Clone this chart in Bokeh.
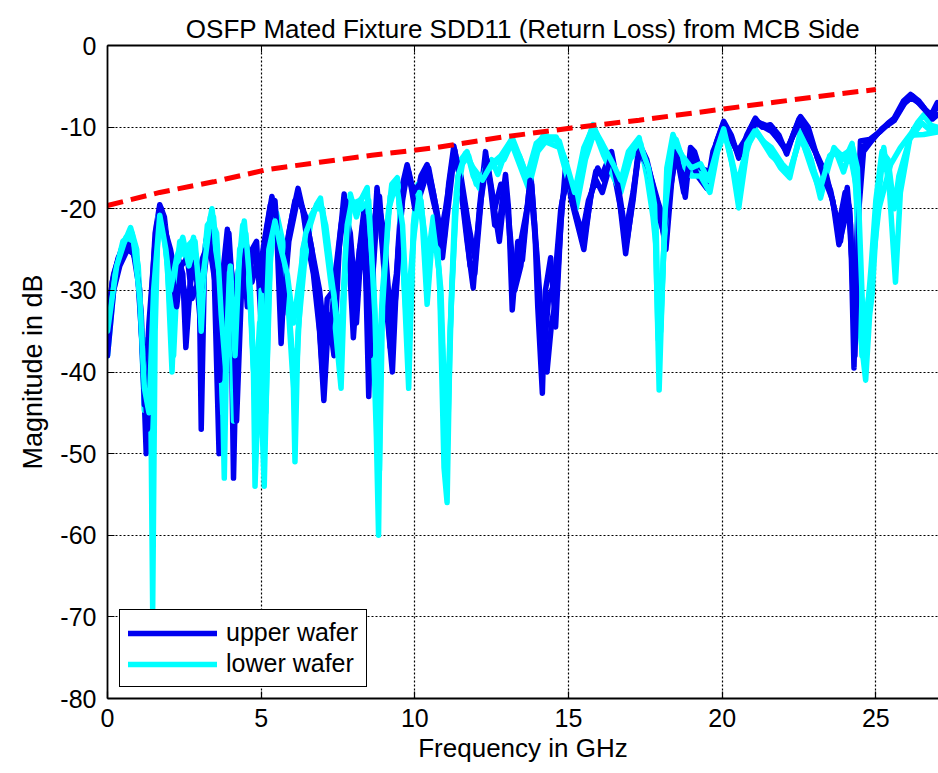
from bokeh.plotting import figure
from bokeh.models import FixedTicker, LinearAxis, Range1d, Legend, LegendItem
from bokeh.embed import file_html
from bokeh.resources import INLINE

TITLE = "OSFP Mated Fixture SDD11 (Return Loss) from MCB Side"
X_LABEL = "Frequency in GHz"
Y_LABEL = "Magnitude in dB"
X_TICKS = [0, 5, 10, 15, 20, 25]
Y_TICKS = [0, -10, -20, -30, -40, -50, -60, -70, -80]
LEGEND_LABELS = ["upper wafer", "lower wafer"]

# limit line (GHz, dB)
limit_f = [0, 1.7, 3.45, 5.2, 6.9, 8.6, 10.7, 12.9, 15.1, 17.3, 19.5, 21.7, 23.85, 25]
limit_db = [-19.6, -18.0, -16.7, -15.2, -14.3, -13.45, -12.5, -11.2, -10.1, -9.15, -8.05, -6.95, -5.9, -5.4]

# upper wafer traces: (GHz, dB)
upper_1 = [
    (0.0, -36), (0.15, -29), (0.35, -26), (0.55, -24.5), (0.75, -24), (0.95, -27), (1.1, -33), (1.26, -50),
    (1.4, -33), (1.55, -23), (1.7, -19.5), (1.85, -21), (2.0, -26), (2.15, -30), (2.3, -26), (2.45, -28),
    (2.55, -37), (2.7, -29), (2.85, -26.5), (3.0, -33), (3.05, -47), (3.15, -28), (3.3, -23), (3.45, -25),
    (3.63, -50), (3.75, -28), (3.9, -22.5), (4.0, -27), (4.1, -53), (4.25, -28), (4.4, -23.5), (4.55, -32),
    (4.7, -25), (4.85, -24), (5.0, -34), (5.2, -22), (5.35, -18.5), (5.5, -22), (5.65, -36.5), (5.8, -25),
    (6.0, -21), (6.2, -17.5), (6.35, -20), (6.5, -24), (6.7, -28), (6.9, -35), (7.04, -43.5), (7.2, -33),
    (7.37, -38), (7.55, -24), (7.7, -18.2), (7.85, -25), (8.0, -35.8), (8.2, -25), (8.35, -20), (8.5, -43),
    (8.65, -25), (8.77, -17.4), (8.95, -25), (9.1, -33), (9.27, -40), (9.45, -25), (9.6, -17), (9.75, -14.6),
    (9.9, -17), (10.03, -19), (10.2, -16), (10.4, -14.6), (10.6, -18), (10.8, -22), (10.95, -24), (11.1, -17),
    (11.27, -12.3), (11.45, -16), (11.7, -24), (11.9, -29.7), (12.1, -20), (12.3, -13), (12.45, -17), (12.6, -22),
    (12.74, -22.3), (12.95, -15.8), (13.05, -20), (13.17, -32.4), (13.35, -24), (13.5, -26.3), (13.77, -15.6),
    (13.9, -22), (14.0, -32), (14.15, -42.6), (14.25, -30), (14.42, -26), (14.58, -34.5), (14.75, -22),
    (14.9, -15), (15.1, -19), (15.3, -22), (15.5, -25), (15.7, -19), (15.89, -15.4), (16.1, -15.8), (16.4, -13),
    (16.6, -17), (16.86, -25.5), (17.05, -20), (17.3, -12), (17.55, -14), (17.84, -18.6), (18.0, -21),
    (18.17, -25), (18.35, -17), (18.5, -12.5), (18.8, -18.6), (18.97, -12.5), (19.1, -13), (19.3, -15.4),
    (19.62, -16.2), (19.8, -12), (20.05, -9.3), (20.3, -11), (20.54, -13.8), (20.8, -11), (21.08, -8.9),
    (21.3, -10), (21.57, -9.7), (21.85, -11), (22.1, -13.3), (22.3, -11), (22.55, -8.7), (22.8, -10),
    (23.1, -13.8), (23.3, -15.5), (23.53, -17.8), (23.7, -21), (23.85, -24), (23.95, -21), (24.07, -17.4),
    (24.18, -22), (24.29, -39.5), (24.38, -25), (24.5, -11.7), (24.8, -11.5), (25.15, -10.5), (25.4, -9.5),
    (25.6, -8.9), (25.9, -6.8), (26.13, -6), (26.4, -6.8), (26.6, -7.8), (26.8, -8.5), (27.0, -7),
]
upper_2 = [
    (0.0, -33), (0.2, -28), (0.45, -25), (0.7, -24.5), (0.9, -26), (1.05, -30), (1.2, -44), (1.35, -34),
    (1.55, -24), (1.7, -20), (1.9, -23), (2.05, -25), (2.2, -28), (2.35, -27), (2.5, -30), (2.6, -33),
    (2.75, -27), (2.9, -28), (3.05, -30), (3.2, -24), (3.35, -22), (3.5, -26), (3.6, -36), (3.75, -30),
    (3.9, -24), (4.05, -28), (4.2, -38), (4.35, -26), (4.5, -24), (4.65, -27), (4.8, -25), (4.95, -28),
    (5.1, -24), (5.3, -19.5), (5.45, -20), (5.6, -25), (5.75, -30), (5.9, -23), (6.1, -19), (6.3, -19.5),
    (6.5, -22), (6.7, -26), (6.9, -30), (7.1, -37), (7.3, -33), (7.5, -26), (7.7, -20), (7.9, -23),
    (8.05, -30), (8.2, -25), (8.4, -21), (8.6, -30), (8.8, -19), (9.0, -23), (9.2, -33), (9.4, -28),
    (9.6, -19), (9.75, -15.5), (9.95, -18), (10.15, -17), (10.4, -15.5), (10.6, -19), (10.85, -23), (11.0, -20),
    (11.27, -13), (11.5, -16), (11.75, -22), (11.95, -26), (12.15, -19), (12.35, -14), (12.6, -20), (12.8, -17),
    (13.0, -19), (13.2, -29), (13.4, -25), (13.6, -21), (13.8, -17), (14.0, -27), (14.2, -38), (14.35, -31),
    (14.55, -29), (14.75, -20), (14.95, -16), (15.2, -20), (15.45, -23), (15.65, -19), (15.9, -16.5),
    (16.1, -18), (16.4, -14), (16.6, -18), (16.85, -23), (17.1, -18), (17.3, -13), (17.6, -15), (17.9, -19),
    (18.15, -22), (18.35, -16), (18.55, -13.5), (18.8, -17), (19.0, -14), (19.2, -16), (19.5, -17.5),
    (19.7, -13), (20.05, -9.8), (20.5, -13), (21.1, -9.5), (21.6, -10.5), (22.1, -12.7), (22.55, -9.2),
    (23.1, -13.5), (23.4, -16), (23.65, -20), (23.8, -22), (24.0, -18), (24.15, -20), (24.3, -34), (24.4, -22),
    (24.55, -12.5), (24.9, -11.5), (25.2, -10.2), (25.6, -9), (25.9, -7.2), (26.15, -6.4), (26.5, -7.3),
    (26.85, -9), (27.0, -8.5),
]
upper_3 = [
    (0.0, -38), (0.2, -30), (0.4, -27), (0.65, -25), (0.85, -25.5), (1.0, -29), (1.15, -38), (1.3, -47),
    (1.45, -31), (1.6, -22), (1.75, -20), (1.95, -24), (2.1, -28), (2.25, -32), (2.4, -27), (2.6, -26),
    (2.75, -31), (2.95, -29), (3.1, -26), (3.3, -24), (3.5, -29), (3.65, -41), (3.8, -27), (3.95, -23),
    (4.1, -32), (4.2, -46), (4.35, -31), (4.5, -25), (4.7, -29), (4.9, -26), (5.1, -30), (5.3, -21),
    (5.45, -19), (5.6, -27), (5.7, -33), (5.9, -24), (6.2, -18.5), (6.45, -21), (6.65, -25), (6.85, -32),
    (7.0, -40), (7.15, -31), (7.35, -30), (7.6, -22), (7.75, -19), (7.95, -30), (8.1, -34), (8.3, -22),
    (8.45, -31), (8.55, -38), (8.7, -21), (8.85, -18.5), (9.05, -28), (9.2, -37), (9.4, -30), (9.6, -18),
    (9.8, -15.5), (10.0, -20), (10.2, -18), (10.45, -15), (10.7, -20), (10.9, -26), (11.05, -21), (11.3, -12.8),
    (11.55, -18), (11.8, -27), (11.95, -28), (12.2, -17), (12.35, -14.5), (12.55, -19), (12.75, -24),
    (12.95, -17), (13.1, -23), (13.25, -30), (13.45, -27), (13.75, -16.5), (13.95, -25), (14.1, -36),
    (14.3, -40), (14.45, -34), (14.6, -31), (14.8, -19), (15.0, -16), (15.25, -21), (15.5, -24), (15.75, -18),
    (15.95, -15), (16.15, -16.5), (16.4, -13.5), (16.65, -18), (16.9, -24), (17.1, -19), (17.3, -12.5),
    (17.6, -15), (17.85, -19.5), (18.1, -23), (18.3, -18), (18.5, -13), (18.75, -18), (19.0, -13), (19.3, -15),
    (19.6, -15.5), (19.85, -11.5), (20.05, -9.5), (20.55, -13.5), (21.05, -9.2), (21.55, -10), (22.1, -13),
    (22.5, -9), (23.05, -13.2), (23.35, -16.5), (23.6, -19), (23.8, -24.4), (23.95, -22), (24.1, -19),
    (24.25, -28), (24.32, -38), (24.45, -20), (24.6, -13), (25.0, -11), (25.3, -10), (25.6, -9.2),
    (25.95, -7), (26.2, -6.2), (26.5, -7.5), (26.8, -8.7), (27.0, -7.5),
]

# lower wafer traces: (GHz, dB)
lower_1 = [
    (0.0, -38), (0.2, -30), (0.45, -25), (0.75, -22.3), (0.95, -25), (1.1, -35), (1.2, -44.7), (1.3, -36),
    (1.4, -40), (1.47, -69), (1.55, -35), (1.65, -21), (1.75, -20.3), (1.95, -27), (2.1, -40), (2.2, -30),
    (2.35, -24), (2.55, -26), (2.7, -25), (2.8, -23.5), (2.95, -28), (3.05, -35), (3.2, -24), (3.4, -20),
    (3.55, -25), (3.7, -35), (3.8, -53), (3.9, -32), (4.0, -30), (4.1, -46), (4.25, -28), (4.45, -21.5),
    (4.6, -28), (4.75, -40), (4.8, -54), (4.95, -38), (5.1, -54), (5.25, -30), (5.35, -23), (5.5, -21),
    (5.7, -26), (5.9, -33), (6.05, -42), (6.1, -51), (6.2, -35), (6.4, -27), (6.6, -22), (6.8, -19.5),
    (6.93, -18.7), (7.1, -24), (7.3, -30), (7.45, -36), (7.6, -42), (7.75, -25), (7.9, -18.2), (8.1, -21),
    (8.3, -18.5), (8.45, -17.4), (8.6, -30), (8.75, -48), (8.82, -60), (8.9, -35), (9.1, -22), (9.25, -17),
    (9.43, -16.2), (9.6, -25), (9.8, -42), (9.95, -22), (10.1, -17), (10.25, -22), (10.4, -31.7), (10.6, -22),
    (10.8, -28), (10.95, -51.7), (11.05, -56), (11.15, -35), (11.35, -18), (11.5, -14), (11.7, -13),
    (11.9, -16), (12.1, -17.5), (12.3, -15), (12.5, -14), (12.7, -15.8), (12.95, -13), (13.17, -11.3),
    (13.45, -14), (13.7, -16.6), (13.95, -12.5), (14.2, -10.9), (14.45, -11.5), (14.7, -11.7), (14.95, -15),
    (15.24, -19), (15.5, -13), (15.8, -9.7), (16.1, -12.5), (16.4, -15), (16.65, -17.4), (16.95, -13),
    (17.3, -11.3), (17.55, -16), (17.75, -21), (17.84, -24.3), (17.95, -42.2), (18.05, -30), (18.2, -15),
    (18.4, -10.9), (18.7, -14), (18.95, -15.5), (19.2, -15), (19.5, -17), (19.8, -13), (20.05, -10),
    (20.3, -14), (20.54, -19.9), (20.8, -13), (21.03, -10), (21.3, -11.5), (21.57, -12.9), (21.9, -15),
    (22.2, -16.2), (22.55, -10.5), (22.9, -14), (23.2, -18.7), (23.45, -15), (23.64, -12.5), (23.9, -14),
    (24.05, -13.5), (24.23, -12), (24.4, -20), (24.5, -35.4), (24.67, -41), (24.8, -33), (24.88, -30.5),
    (25.05, -20), (25.26, -12.5), (25.45, -18), (25.64, -29), (25.8, -18), (26.13, -10.9), (26.35, -9.5),
    (26.56, -8.5), (26.8, -9.8), (27.0, -10),
]
lower_2 = [
    (0.0, -36), (0.25, -28), (0.5, -24), (0.8, -23), (1.0, -27), (1.15, -38), (1.3, -44), (1.4, -38),
    (1.55, -28), (1.7, -21), (1.85, -22), (2.05, -33), (2.15, -38), (2.3, -26), (2.5, -25), (2.75, -24),
    (2.9, -26), (3.05, -30), (3.25, -22), (3.45, -21), (3.6, -30), (3.75, -45), (3.9, -28), (4.05, -35),
    (4.2, -30), (4.4, -22), (4.55, -26), (4.7, -35), (4.85, -48), (5.0, -30), (5.15, -45), (5.3, -26),
    (5.5, -20.5), (5.7, -24), (5.85, -30), (6.0, -37), (6.15, -40), (6.35, -25), (6.6, -21), (6.9, -19),
    (7.1, -22), (7.3, -28), (7.55, -38), (7.7, -30), (7.9, -19.5), (8.2, -19), (8.45, -18), (8.65, -28),
    (8.8, -42), (8.95, -30), (9.2, -18.5), (9.45, -17), (9.65, -29), (9.8, -38), (10.0, -20), (10.2, -19),
    (10.4, -27), (10.6, -21), (10.85, -30), (11.0, -47), (11.1, -40), (11.3, -20), (11.55, -14.5),
    (11.75, -13.5), (12.0, -17), (12.3, -15.5), (12.6, -14.5), (12.9, -14), (13.15, -12), (13.45, -15),
    (13.7, -17.5), (14.0, -13), (14.25, -11.8), (14.7, -12.5), (14.95, -16), (15.25, -20), (15.55, -14),
    (15.85, -10.5), (16.15, -13.5), (16.45, -16), (16.7, -18), (17.0, -14), (17.35, -12), (17.65, -17),
    (17.85, -22), (17.95, -38), (18.1, -25), (18.3, -14), (18.5, -11.5), (18.8, -15), (19.0, -16),
    (19.3, -16), (19.6, -18), (19.85, -13), (20.1, -10.5), (20.5, -17), (20.8, -12.5), (21.1, -10.5),
    (21.6, -13.5), (22.2, -15.5), (22.55, -11), (22.9, -15), (23.15, -17.5), (23.45, -14), (23.7, -13),
    (23.95, -15.5), (24.15, -13), (24.35, -17), (24.55, -38), (24.7, -34), (24.85, -27), (25.0, -19),
    (25.2, -13), (25.4, -14), (25.6, -20), (25.75, -16), (26.1, -11.5), (26.5, -9.5), (26.8, -10.5),
    (27.0, -10.2),
]
lower_3 = [
    (0.0, -35), (0.3, -27), (0.6, -23.5), (0.85, -24), (1.05, -31), (1.2, -42), (1.35, -45), (1.5, -30),
    (1.7, -20.8), (1.9, -25), (2.05, -30), (2.25, -26), (2.45, -23.5), (2.65, -27), (2.85, -24), (3.0, -31),
    (3.15, -27), (3.35, -21), (3.55, -23), (3.7, -33), (3.85, -40), (4.0, -27), (4.15, -38), (4.3, -25),
    (4.5, -23), (4.65, -30), (4.8, -44), (4.95, -34), (5.1, -40), (5.25, -25), (5.45, -21.5), (5.65, -25),
    (5.85, -28), (6.05, -34), (6.2, -30), (6.45, -23), (6.75, -20), (7.0, -20), (7.2, -26), (7.45, -33),
    (7.6, -35), (7.8, -22), (7.95, -19), (8.25, -20), (8.5, -19), (8.7, -33), (8.85, -52), (8.95, -32),
    (9.15, -20), (9.4, -16.8), (9.6, -22), (9.75, -33), (9.95, -24), (10.15, -18), (10.35, -24), (10.55, -24),
    (10.75, -25), (10.9, -37), (11.05, -50), (11.2, -30), (11.4, -16), (11.65, -13.2), (11.9, -15),
    (12.2, -16.5), (12.5, -14.5), (12.8, -13.5), (13.1, -11.8), (13.4, -13.5), (13.65, -16), (13.95, -12),
    (14.2, -11.2), (14.6, -11.2), (14.9, -14), (15.2, -18), (15.5, -12.5), (15.8, -10), (16.1, -12),
    (16.45, -14.5), (16.7, -16.5), (17.0, -13.5), (17.3, -11.8), (17.6, -15), (17.8, -19.5), (17.92, -36),
    (18.0, -35), (18.15, -20), (18.4, -11.5), (18.7, -13.5), (19.0, -15), (19.3, -14.5), (19.55, -16.5),
    (19.85, -12.5), (20.05, -10.2), (20.35, -15), (20.55, -18.5), (20.8, -12), (21.05, -10.5), (21.35, -11.8),
    (21.6, -12.5), (21.95, -14.5), (22.2, -15.5), (22.55, -11.2), (22.9, -14.5), (23.2, -17.5), (23.5, -13.5),
    (23.7, -12.8), (23.9, -13.5), (24.1, -13), (24.25, -12.5), (24.4, -15), (24.6, -35.4), (24.84, -28.8),
    (25.1, -20), (25.48, -14.6), (25.8, -12.5), (26.1, -11), (26.56, -10.9), (27.0, -10.6),
]

BLUE = "#0000f0"
CYAN = "#00ffff"
RED = "#ff0000"
FONT = "Liberation Sans, Arial, sans-serif"

p = figure(
    width=938, height=773, output_backend="svg", toolbar_location=None,
    x_range=Range1d(0, 27.04), y_range=Range1d(-80, 0),
    min_border_left=107, min_border_right=0, min_border_top=45, min_border_bottom=75,
    background_fill_color="white", border_fill_color="white",
)
p.outline_line_color = None

p.title.text = TITLE
p.title.text_font = FONT
p.title.text_font_size = "26px"
p.title.text_font_style = "normal"
p.title.text_color = "black"
p.title.align = "center"
p.title.standoff = 4

for ax in (p.xaxis[0], p.yaxis[0]):
    ax.major_tick_in = 7
    ax.major_tick_out = 0
    ax.minor_tick_in = 0
    ax.minor_tick_out = 0
    ax.axis_line_width = 1.8
    ax.major_tick_line_width = 1.2
    ax.major_label_text_font = FONT
    ax.major_label_text_font_size = "25px"
    ax.major_label_text_color = "black"
    ax.axis_label_text_font = FONT
    ax.axis_label_text_font_style = "normal"
    ax.axis_label_text_color = "black"

p.xaxis.ticker = FixedTicker(ticks=X_TICKS)
p.yaxis.ticker = FixedTicker(ticks=Y_TICKS)
p.yaxis.major_label_overrides = {t: str(t) for t in Y_TICKS}
p.xaxis.axis_label = X_LABEL
p.yaxis.axis_label = Y_LABEL
p.xaxis.axis_label_text_font_size = "26px"
p.yaxis.axis_label_text_font_size = "27px"
p.xaxis.major_label_standoff = 10
p.xaxis.axis_label_standoff = 3
p.yaxis.major_label_standoff = 11
p.yaxis.axis_label_standoff = 9

top = LinearAxis(ticker=FixedTicker(ticks=X_TICKS), major_label_text_color=None,
                 major_label_text_font_size="1px", major_label_standoff=0,
                 major_tick_in=7, major_tick_out=0,
                 minor_tick_in=0, minor_tick_out=0, axis_line_width=1.8)
p.add_layout(top, "above")

p.xgrid.ticker = FixedTicker(ticks=X_TICKS[1:])
p.ygrid.ticker = FixedTicker(ticks=Y_TICKS[1:-1])
p.grid.grid_line_color = "black"
p.grid.grid_line_dash = "2 2"
p.grid.grid_line_width = 1.2

renderers = {}
order = [("u1", upper_1, BLUE), ("l1", lower_1, CYAN), ("u2", upper_2, BLUE),
         ("l2", lower_2, CYAN), ("u3", upper_3, BLUE), ("l3", lower_3, CYAN)]
for name, pts, col in order:
    f = [a for a, _ in pts]
    d = [b for _, b in pts]
    renderers[name] = p.line(f, d, line_color=col, line_width=5.5, line_join="round", line_cap="round")

p.line(limit_f, limit_db, line_color=RED, line_width=5, line_dash="16 8")

legend = Legend(items=[LegendItem(label=LEGEND_LABELS[0], renderers=[renderers["u1"]]),
                       LegendItem(label=LEGEND_LABELS[1], renderers=[renderers["l1"]])],
                location=(12, 11))
legend.border_line_color = "black"
legend.border_line_alpha = 1
legend.border_line_width = 1.8
legend.background_fill_color = "white"
legend.background_fill_alpha = 1
legend.label_text_font = FONT
legend.label_text_font_size = "25px"
legend.label_text_color = "black"
legend.glyph_width = 89
legend.glyph_height = 24
legend.label_height = 24
legend.label_standoff = 9
legend.padding = 8
legend.spacing = 2
legend.margin = 0
p.add_layout(legend)

open("out.html", "w").write(file_html(p, INLINE))
